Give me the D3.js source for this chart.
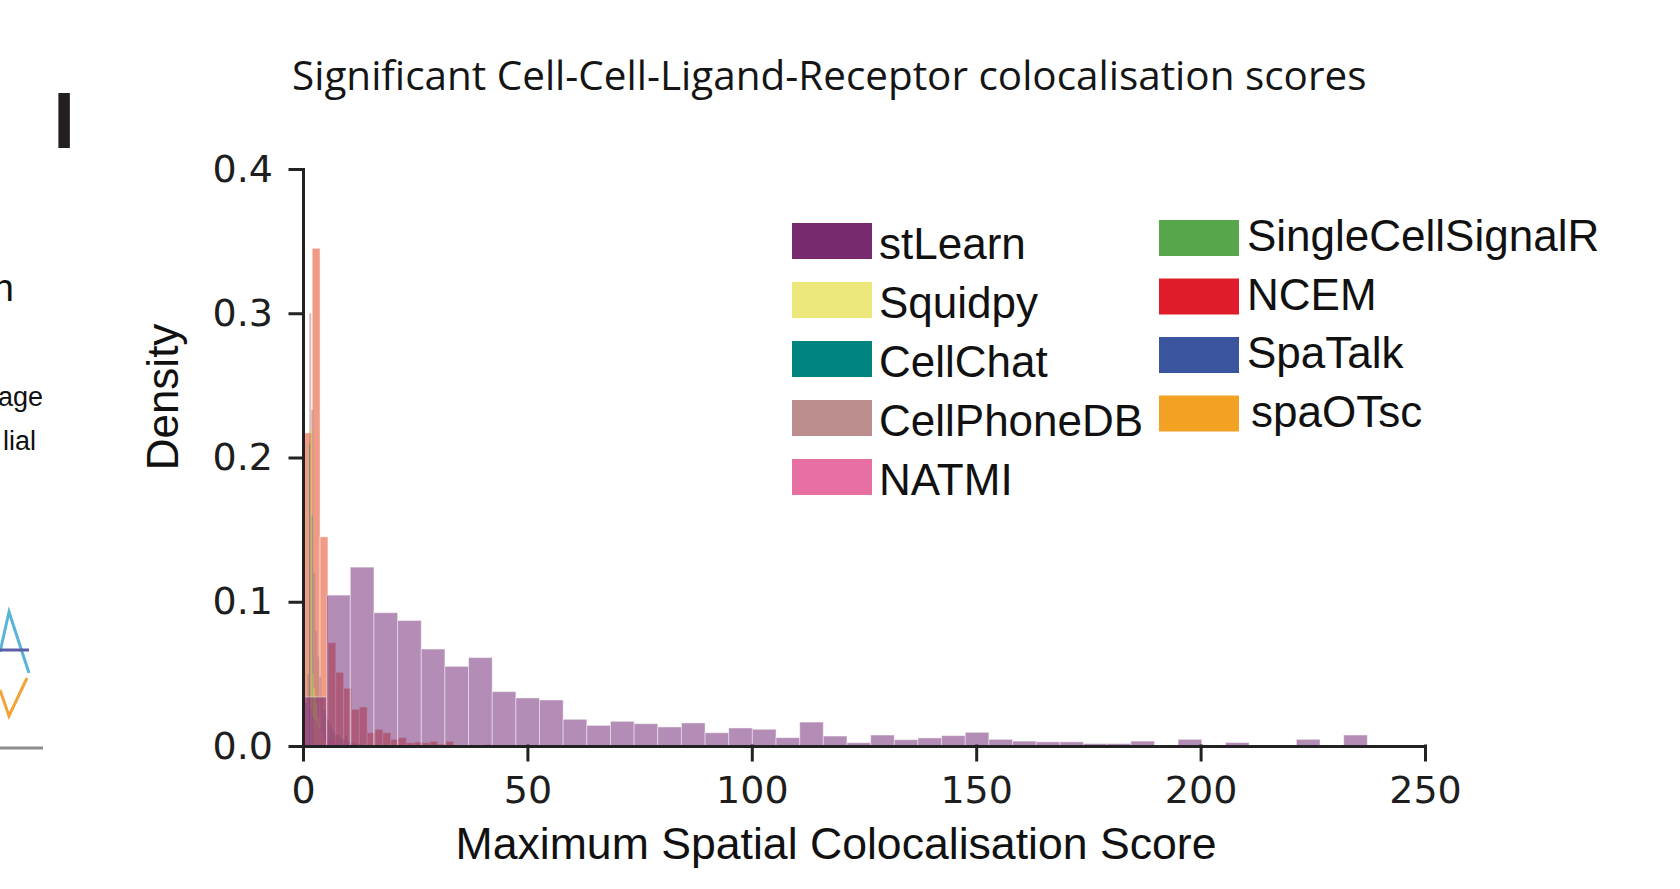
<!DOCTYPE html>
<html>
<head>
<meta charset="utf-8">
<script src="https://cdn.jsdelivr.net/npm/d3@7/dist/d3.min.js"></script>
<style>
    html, body { margin: 0; padding: 0; background: #fff; }
    svg { display: block; }
</style>
</head>
<body>
<svg id="chart" width="1680" height="889"></svg>
<script>
// ---- data ----
const xTicks = [0, 50, 100, 150, 200, 250];
const yTicks = [0.0, 0.1, 0.2, 0.3, 0.4];

const legendLeft = ['stLearn', 'Squidpy', 'CellChat', 'CellPhoneDB', 'NATMI'];
const legendRight = ['SingleCellSignalR', 'NCEM', 'SpaTalk', 'spaOTsc'];
const legendColors = ['#782a6e', '#ece77a', '#00847f', '#bb8d8c', '#e86fa1', '#57a64c', '#e11c2a', '#3a559d', '#f2a122'];

// histogram bins: first edge, bin width, densities
const stLearnBins = [0, 5.27];
const stLearnDensity = [0.034, 0.1046, 0.124, 0.0924, 0.087, 0.0672, 0.0552, 0.0613, 0.0377, 0.0333,
    0.0319, 0.0185, 0.0143, 0.0171, 0.0155, 0.0132, 0.016, 0.0092, 0.0125, 0.0116,
    0.0058, 0.0166, 0.0069, 0.0023, 0.0076, 0.0044, 0.0056, 0.0072, 0.0095, 0.0046,
    0.0034, 0.0029, 0.0029, 0.0017, 0.0017, 0.0034, 0, 0.0046, 0, 0.0024,
    0, 0, 0.0046, 0, 0.0076];

const ncemBins = [0.3, 1.75];
const ncemDensity = [0.217, 0.345, 0.145, 0.0716, 0.0511, 0.040, 0.0254, 0.027, 0.0092, 0.0115,
    0.0092, 0.0046, 0.0058, 0.0023, 0.0028, 0.0023, 0.0032, 0.0012, 0.0032, 0.0005,
    0.0005, 0, 0, 0.001];
const ncemTail = [[114, 0.0008]];   // [bin index, density]

const cellPhoneDBBins = [0.06, 0.445];
const cellPhoneDBDensity = [0.02, 0.03, 0.05, 0.30, 0.233, 0.12, 0.08, 0.062, 0.048, 0.034,
    0.025, 0.021, 0.018, 0.0146, 0.012, 0.01, 0.0076, 0.0076, 0.006, 0.0046,
    0.0046, 0.0074, 0.003, 0.003, 0.002, 0.002, 0.0015, 0.0012, 0.001, 0.001];

const squidpyBins = [1.7, 0.3];
const squidpyDensity = [0.22, 0.05, 0.04, 0.035, 0.03, 0.02, 0.015, 0.01, 0.01, 0.006, 0.004, 0.003];

const natmiBins = [0.5, 0.5];
const natmiDensity = [0.03, 0.035, 0.025, 0.02, 0.018, 0.015, 0.012, 0.01, 0.008, 0.006,
    0.005, 0.004, 0.003, 0.002, 0.002, 0.001];

const cellChatBins = [1.35, 0.15];
const cellChatDensity = [0.21, 0, 0, 0, 0.16];

// bits of the neighbouring panel that are cut off at the left edge
const sideTexts = [['n', 14, 301, 38], ['age', 43, 406, 27], ['lial', 36, 450, 27]];
const sideLines = [
    ['#5ab4d6', [[0, 652], [9, 612], [29, 673]]],
    ['#5b5ea6', [[0, 650], [29, 650]]],
    ['#f2a33a', [[0, 690], [9, 716], [27, 678]]],
    ['#8c8c8c', [[0, 748], [43, 748]]]
];

// ---- layout ----
const svg = d3.select('#chart');
const x = d3.scaleLinear().domain([0, 250]).range([303, 1425]);
const y = d3.scaleLinear().domain([0, 0.4]).range([746, 169]);

function toBars(bins, density) {
    return density.map((d, i) => ({ x0: bins[0] + i * bins[1], x1: bins[0] + (i + 1) * bins[1], d: d }))
        .filter(b => b.d > 0);
}

const ncemBars = toBars(ncemBins, ncemDensity)
    .concat(ncemTail.map(t => ({ x0: ncemBins[0] + t[0] * ncemBins[1], x1: ncemBins[0] + (t[0] + 1) * ncemBins[1], d: t[1] })));

// draw order: first is at the back
const layers = [
    { bars: ncemBars, fill: '#e1370b', op: 0.5, edge: 0.45 },
    { bars: toBars(cellPhoneDBBins, cellPhoneDBDensity), fill: '#b07a78', op: 0.5, edge: 0 },
    { bars: toBars(squidpyBins, squidpyDensity), fill: '#e6dc4a', op: 0.6, edge: 0 },
    { bars: toBars(natmiBins, natmiDensity), fill: '#e86fa1', op: 0.5, edge: 0 },
    { bars: toBars(cellChatBins, cellChatDensity), fill: '#00847f', op: 0.6, edge: 0 },
    { bars: toBars(stLearnBins, stLearnDensity), fill: '#691b6d', op: 0.5, edge: 0.45 }
];

const plot = svg.append('g');
layers.forEach(layer => {
    plot.append('g')
        .selectAll('rect')
        .data(layer.bars)
        .enter().append('rect')
        .attr('x', b => x(b.x0))
        .attr('width', b => x(b.x1) - x(b.x0))
        .attr('y', b => y(b.d))
        .attr('height', b => y(0) - y(b.d))
        .attr('fill', layer.fill)
        .attr('fill-opacity', layer.op)
        .attr('stroke', layer.edge ? '#fff' : 'none')
        .attr('stroke-opacity', layer.edge)
        .attr('stroke-width', 1);
});

// axes
const yAxis = svg.append('g')
    .attr('transform', `translate(${x(0)},0)`)
    .call(d3.axisLeft(y).tickValues(yTicks).tickFormat(d3.format('.1f')).tickSize(13).tickSizeOuter(0).tickPadding(17));
const xAxis = svg.append('g')
    .attr('transform', `translate(0,${y(0)})`)
    .call(d3.axisBottom(x).tickValues(xTicks).tickSize(14).tickSizeOuter(0).tickPadding(16));

[xAxis, yAxis].forEach(ax => {
    ax.selectAll('path, line').attr('stroke', '#222').attr('stroke-width', 3).attr('stroke-linecap', 'square');
    ax.selectAll('text')
        .attr('fill', '#1e1e1e')
        .style('font-family', '"DejaVu Sans", sans-serif')
        .style('font-size', '38px');
});

// axis titles
svg.append('text')
    .attr('transform', 'translate(178,397) rotate(-90)')
    .attr('text-anchor', 'middle')
    .style('font-family', '"Liberation Sans", Arial, sans-serif')
    .style('font-size', '44px')
    .attr('fill', '#111')
    .text('Density');

svg.append('text')
    .attr('x', 836).attr('y', 859)
    .attr('text-anchor', 'middle')
    .style('font-family', '"Liberation Sans", Arial, sans-serif')
    .style('font-size', '44.6px')
    .attr('fill', '#111')
    .text('Maximum Spatial Colocalisation Score');

// chart title, sized to span the same width as in the reference
const title = svg.append('text')
    .attr('x', 292).attr('y', 90)
    .style('font-family', '"Open Sans", sans-serif')
    .style('font-size', '100px')
    .attr('fill', '#151515')
    .text('Significant Cell-Cell-Ligand-Receptor colocalisation scores');
const titleW = title.node().getComputedTextLength();
title.style('font-size', (100 * 1075 / titleW) + 'px');

// panel letter
svg.append('text')
    .attr('x', 53).attr('y', 148)
    .style('font-family', '"Liberation Sans", Arial, sans-serif')
    .style('font-size', '80px')
    .style('font-weight', 'bold')
    .attr('fill', '#231f20')
    .text('I');

// legend
const legendRows = legendLeft.map((name, i) => ({ name: name, color: legendColors[i], sx: 792, sy: 223 + i * 59, dy: 36, dx: 87 }))
    .concat(legendRight.map((name, i) => ({ name: name, color: legendColors[legendLeft.length + i], sx: 1159, sy: 220 + i * 58.5, dy: 31, dx: name === 'spaOTsc' ? 92 : 88 })));

const legend = svg.append('g')
    .selectAll('g')
    .data(legendRows)
    .enter().append('g');
legend.append('rect')
    .attr('x', d => d.sx).attr('y', d => d.sy)
    .attr('width', 80).attr('height', 36)
    .attr('fill', d => d.color);
legend.append('text')
    .attr('x', d => d.sx + d.dx).attr('y', d => d.sy + d.dy)
    .style('font-family', '"Liberation Sans", Arial, sans-serif')
    .style('font-size', '44px')
    .attr('fill', '#111')
    .text(d => d.name);

// cut-off neighbour panel
svg.append('g')
    .selectAll('text')
    .data(sideTexts)
    .enter().append('text')
    .attr('x', d => d[1]).attr('y', d => d[2])
    .attr('text-anchor', 'end')
    .style('font-family', '"Liberation Sans", Arial, sans-serif')
    .style('font-size', d => d[3] + 'px')
    .attr('fill', '#111')
    .text(d => d[0]);

svg.append('g')
    .selectAll('path')
    .data(sideLines)
    .enter().append('path')
    .attr('d', d => d3.line()(d[1]))
    .attr('fill', 'none')
    .attr('stroke', d => d[0])
    .attr('stroke-width', 3);
</script>
</body>
</html>
